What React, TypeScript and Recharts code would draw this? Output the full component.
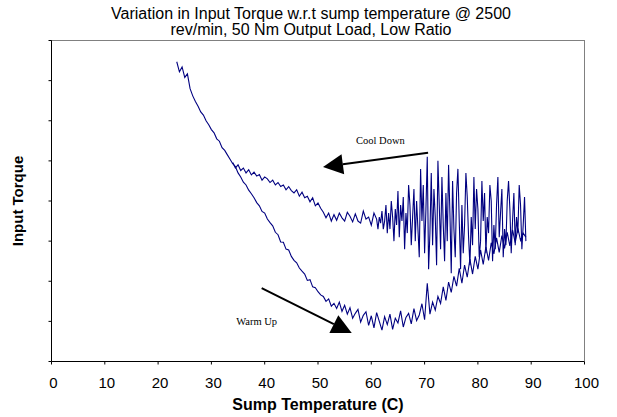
import React from 'react'
import { LineChart, Line, XAxis, YAxis, ReferenceLine, ReferenceDot } from 'recharts'

// warm up run: low temp start, torque falls then climbs again
const warmUpTemp = [
  23.5, 24, 24.5, 25, 25.5, 26, 26.5, 27, 27.5, 28, 28.5, 29, 29.5, 30, 30.5, 31, 31.5, 32, 32.5, 33,
  33.5, 34, 34.5, 35, 35.5, 36, 36.5, 37, 37.5, 38, 38.5, 39, 39.5, 40, 40.5, 41, 41.5, 42, 42.5, 43,
  43.5, 44, 44.5, 45, 45.5, 46, 46.5, 47, 47.5, 48, 48.5, 49, 49.5, 50, 50.5, 51, 51.5, 52, 52.5, 53,
  53.5, 54, 54.5, 55, 55.5, 56, 56.5, 57, 57.5, 58, 58.5, 59, 59.5, 60, 60.5, 61, 61.5, 62, 62.5, 63,
  63.5, 64, 64.5, 65, 65.5, 66, 66.5, 67, 67.5, 68, 68.5, 69, 69.5, 70, 70.5, 71, 71.5, 72, 72.5, 73,
  73.5, 74, 74.5, 75, 75.5, 76, 76.5, 77, 77.5, 78, 78.5, 79, 79.5, 80, 80.5, 81, 81.5, 82, 82.5, 83,
  83.5, 84, 84.5, 85, 85.5, 86, 86.5, 87, 87.5, 88, 88.5, 89,
]
const warmUpTorque = [
  7.47, 7.22, 7.34, 7.08, 7.17, 6.8, 6.62, 6.48, 6.36, 6.22, 6.14, 6.0, 5.9, 5.78, 5.7, 5.55, 5.49, 5.33, 5.26, 5.15,
  5.04, 4.93, 4.86, 4.7, 4.6, 4.47, 4.4, 4.27, 4.18, 4.08, 3.96, 3.88, 3.74, 3.7, 3.55, 3.46, 3.38, 3.22, 3.16, 2.98,
  2.97, 2.8, 2.78, 2.62, 2.52, 2.46, 2.33, 2.25, 2.18, 2.02, 2.04, 1.86, 1.84, 1.74, 1.66, 1.62, 1.5, 1.56, 1.38, 1.45,
  1.32, 1.48, 1.25, 1.4, 1.18, 1.34, 1.08, 1.2, 1.3, 0.98, 1.15, 1.24, 0.9, 1.14, 0.84, 1.22, 1.0, 0.78, 1.12, 0.92,
  1.18, 0.8, 1.08, 0.96, 1.26, 0.86, 1.1, 1.2, 0.94, 1.32, 1.02, 1.16, 1.44, 1.04, 1.95, 1.18, 1.48, 1.28, 1.62, 1.45,
  1.86, 1.52, 1.98, 1.72, 2.12, 1.88, 2.32, 1.95, 2.4, 2.1, 2.55, 2.18, 2.62, 2.3, 2.78, 2.42, 2.86, 2.52, 2.96, 2.68,
  3.08, 2.72, 3.14, 2.82, 3.22, 2.88, 3.28, 2.96, 3.32, 3.02, 3.2, 3.1,
]

// cool down run: starts hot (noisy), drifts back left
const coolDownTemp = [
  89, 88.75, 88.5, 88.25, 88, 87.75, 87.5, 87.25, 87, 86.75, 86.5, 86.25, 86, 85.75, 85.5, 85.25,
  85, 84.75, 84.5, 84.25, 84, 83.75, 83.5, 83.25, 83, 82.75, 82.5, 82.25, 82, 81.75, 81.5, 81.25,
  81, 80.75, 80.5, 80.25, 80, 79.75, 79.5, 79.25, 79, 78.75, 78.5, 78.25, 78, 77.75, 77.5, 77.25,
  77, 76.75, 76.5, 76.25, 76, 75.75, 75.5, 75.25, 75, 74.75, 74.5, 74.25, 74, 73.75, 73.5, 73.25,
  73, 72.75, 72.5, 72.25, 72, 71.75, 71.5, 71.25, 71, 70.75, 70.5, 70.25, 70, 69.75, 69.5, 69.25,
  69, 68.75, 68.5, 68.25, 68, 67.75, 67.5, 67.25, 67, 66.75, 66.5, 66.25, 66, 65.75, 65.5, 65.25,
  65, 64.75, 64.5, 64.25, 64, 63.75, 63.5, 63.25, 63, 62.75, 62.5, 62.25, 62, 61.75, 61.5, 61.25,
  61, 60.5, 60, 59.5, 59, 58.5, 58, 57.5, 57, 56.5, 56, 55.5, 55, 54.5, 54, 53.5, 53, 52.5, 52,
  51.5, 51, 50.5, 50, 49.5, 49, 48.5, 48, 47.5, 47, 46.5, 46, 45.5, 45, 44.5, 44, 43.5, 43, 42.5,
  42, 41.5, 41, 40.5, 40, 39.5, 39, 38.5, 38, 37.5, 37, 36.5, 36, 35.5, 35, 34.5, 34,
]
const coolDownTorque = [
  3.0, 4.1, 3.4, 2.8, 3.9, 4.4, 3.2, 3.6, 2.9, 4.2, 3.5, 2.7, 3.8, 4.5, 4.0, 2.9,
  3.3, 2.6, 4.3, 3.7, 3.1, 4.6, 3.9, 2.8, 3.4, 2.5, 4.0, 4.4, 3.2, 3.6, 2.7, 4.2,
  3.5, 4.5, 3.0, 2.6, 3.8, 4.3, 3.3, 4.6, 2.9, 3.6, 2.4, 3.1, 4.1, 4.7, 3.4, 2.7,
  3.9, 2.3, 3.5, 4.8, 4.2, 2.6, 3.3, 4.5, 2.2, 3.7, 4.9, 3.0, 4.2, 2.5, 3.4, 4.6,
  2.8, 3.9, 5.0, 2.4, 3.6, 4.3, 2.9, 4.7, 3.2, 2.3, 5.1, 3.8, 2.7, 4.4, 3.5, 4.8,
  2.6, 3.3, 4.0, 3.0, 4.3, 3.6, 2.9, 3.9, 4.4, 3.2, 3.7, 2.8, 4.1, 3.5, 3.9, 3.1,
  4.25, 3.4, 3.8, 3.0, 3.6, 4.0, 3.3, 3.7, 3.2, 3.9, 3.5, 3.3, 3.75, 3.45, 3.6, 3.3,
  3.55, 3.7, 3.4, 3.6, 3.55, 3.75, 3.45, 3.5, 3.68, 3.48, 3.62, 3.72, 3.5, 3.58, 3.7, 3.52, 3.66, 3.5, 3.7,
  3.58, 3.72, 3.82, 3.95, 3.88, 4.08, 3.98, 4.12, 4.08, 4.22, 4.12, 4.28, 4.2, 4.26, 4.36, 4.28, 4.4, 4.36, 4.46,
  4.4, 4.52, 4.46, 4.55, 4.6, 4.52, 4.66, 4.62, 4.72, 4.65, 4.78, 4.7, 4.82, 4.76, 4.9, 4.82, 4.96,
]

const xTicks = [0, 10, 20, 30, 40, 50, 60, 70, 80, 90, 100]
const yTicks = [0, 1, 2, 3, 4, 5, 6, 7, 8]

const warmUp = warmUpTemp.map((t, i) => ({ temp: t, torque: warmUpTorque[i] }))
const coolDown = coolDownTemp.map((t, i) => ({ temp: t, torque: coolDownTorque[i] }))

const sans = 'Liberation Sans, Arial, sans-serif'
const serif = 'Liberation Serif, Times New Roman, serif'

const Arrow = (p: any) => {
  const { x1, y1, x2, y2 } = p
  const dx = x2 - x1
  const dy = y2 - y1
  const len = Math.sqrt(dx * dx + dy * dy)
  const ux = dx / len
  const uy = dy / len
  const bx = x2 - ux * 20
  const by = y2 - uy * 20
  const pts = `${x2},${y2} ${bx - uy * 10},${by + ux * 10} ${bx + uy * 10},${by - ux * 10}`
  return (
    <g>
      <line x1={x1} y1={y1} x2={bx} y2={by} stroke="#000" strokeWidth={2} />
      <polygon points={pts} fill="#000" />
    </g>
  )
}

const Note = (text: string) => (p: any) => (
  <text x={p.cx} y={p.cy} textAnchor="middle" dominantBaseline="central" fontFamily={serif} fontSize={10.5} fill="#000">
    {text}
  </text>
)

const YLabel = (p: any) => {
  const vb = p.viewBox
  const cx = vb.x - 4
  const cy = vb.y + vb.height / 2
  return (
    <text x={cx} y={cy} transform={`rotate(-90 ${cx} ${cy})`} textAnchor="middle" dominantBaseline="central"
      fontFamily={sans} fontWeight="bold" fontSize={15} fill="#000">
      Input Torque
    </text>
  )
}

export default function App() {
  return (
    <div style={{ position: 'absolute', left: 0, top: 0, width: 617, height: 417, background: '#fff' }}>
      <div style={{ position: 'absolute', left: 0, top: 6, width: 622, textAlign: 'center', fontFamily: sans, fontSize: 16, lineHeight: '16px', color: '#000' }}>
        Variation in Input Torque w.r.t sump temperature @ 2500
        <br />
        rev/min, 50 Nm Output Load, Low Ratio
      </div>
      {/* plot frame: grey top and right edges */}
      <div style={{ position: 'absolute', left: 51, top: 40, width: 534, height: 321, boxSizing: 'border-box', borderTop: '1px solid #808080', borderRight: '1px solid #808080' }} />
      <div style={{ position: 'absolute', left: 0, top: 0 }}>
        <LineChart width={617} height={417} margin={{ top: 40.5, right: 32.5, left: 21.5, bottom: 25.5 }}>
          <XAxis dataKey="temp" type="number" domain={[0, 100]} ticks={xTicks} allowDataOverflow
            stroke="#000" tickSize={3} tickMargin={12.5} height={30}
            tick={{ fill: '#000', fontSize: 15, fontFamily: sans, dx: 2 }}
            label={{ value: 'Sump Temperature (C)', position: 'bottom', offset: 7.5, fill: '#000', fontSize: 16, fontWeight: 'bold', fontFamily: sans }} />
          <YAxis type="number" domain={[0, 8]} ticks={yTicks} allowDataOverflow width={30}
            stroke="#000" tickSize={3} tickFormatter={() => ''} label={{ content: YLabel }} />
          <Line data={warmUp} dataKey="torque" type="linear" stroke="#000080" strokeWidth={1.1} dot={false} isAnimationActive={false} />
          <Line data={coolDown} dataKey="torque" type="linear" stroke="#000080" strokeWidth={1.1} dot={false} isAnimationActive={false} />
          <ReferenceLine segment={[{ x: 70.65, y: 5.2 }, { x: 50.94, y: 4.85 }]} shape={Arrow} />
          <ReferenceLine segment={[{ x: 39.43, y: 1.83 }, { x: 56.33, y: 0.71 }]} shape={Arrow} />
          <ReferenceDot x={61.7} y={5.51} r={0} shape={Note('Cool Down')} />
          <ReferenceDot x={38.5} y={1.0} r={0} shape={Note('Warm Up')} />
        </LineChart>
      </div>
    </div>
  )
}
